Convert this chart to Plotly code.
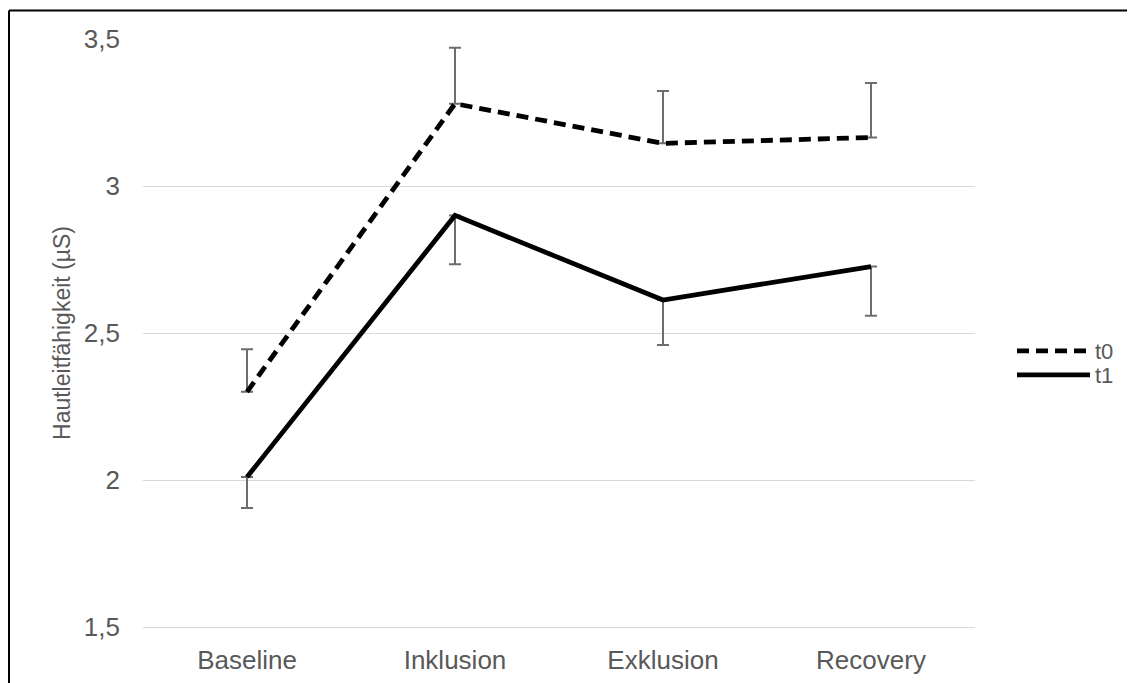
import plotly.graph_objects as go

categories = ["Baseline", "Inklusion", "Exklusion", "Recovery"]
t0_values = [2.30, 3.28, 3.145, 3.165]
t0_err_plus = [0.145, 0.19, 0.178, 0.185]
t1_values = [2.01, 2.90, 2.612, 2.726]
t1_err_minus = [0.105, 0.166, 0.153, 0.167]
y_ticks = [1.5, 2, 2.5, 3, 3.5]
y_ticklabels = ["1,5", "2", "2,5", "3", "3,5"]

OFF = 8  # page body margin
W, H = 1135 - OFF, 683 - OFF
L, T = 143 - OFF, 39 - OFF
R = W - (975 - OFF)
B = H - (627 - OFF)
pw, ph = W - L - R, H - T - B


def px_x(p):
    return (p - L) / pw


def px_y(p):
    return (H - B - p) / ph


FONT = "Liberation Sans, Arial, sans-serif"
GREY = "#595959"

fig = go.Figure()
fig.add_trace(go.Scatter(
    x=categories, y=t0_values, name="t0", mode="lines", legend="legend",
    line=dict(color="black", width=4.8, dash="12px,7px"),
    error_y=dict(type="data", symmetric=False, array=t0_err_plus,
                 arrayminus=[0] * len(t0_values), color="#6d6d6d",
                 thickness=2, width=6),
))
fig.add_trace(go.Scatter(
    x=categories, y=t1_values, name="t1", mode="lines", legend="legend2",
    line=dict(color="black", width=4.8),
    error_y=dict(type="data", symmetric=False, array=[0] * len(t1_values),
                 arrayminus=t1_err_minus, color="#6d6d6d",
                 thickness=2, width=6),
))

legend_common = dict(xanchor="left", yanchor="middle",
                     font=dict(family=FONT, size=22, color=GREY), itemwidth=73,
                     bgcolor="rgba(0,0,0,0)", borderwidth=0)

fig.update_layout(
    width=W, height=H,
    margin=dict(l=L, r=R, t=T, b=B, autoexpand=False),
    paper_bgcolor="white", plot_bgcolor="white",
    font=dict(family=FONT, color=GREY, size=23),
    xaxis=dict(type="category", range=[-0.5, 3.5], showgrid=False,
               showline=True, linecolor="#d9d9d9", linewidth=1, ticks="",
               automargin=False,
               tickfont=dict(size=26, color=GREY), ticklabelstandoff=10),
    yaxis=dict(range=[1.5, 3.5], tickvals=y_ticks, ticktext=y_ticklabels,
               showgrid=True, gridcolor="#d9d9d9", gridwidth=1,
               zeroline=False, showline=False, ticks="", automargin=False,
               tickfont=dict(size=26, color=GREY), ticklabelstandoff=22,
               title=dict(text="Hautleitfähigkeit (µS)",
                          font=dict(size=23, color=GREY), standoff=6)),
    legend=dict(x=px_x(1012 - OFF), y=px_y(351 - OFF), **legend_common),
    legend2=dict(x=px_x(1012 - OFF), y=px_y(375 - OFF), **legend_common),
    showlegend=True,
    shapes=[
        dict(type="line", xref="paper", yref="paper",
             x0=px_x(1), x1=px_x(1), y0=px_y(2.5), y1=px_y(H + 5),
             line=dict(color="black", width=2)),
        dict(type="line", xref="paper", yref="paper",
             x0=px_x(1), x1=px_x(W + 5), y0=px_y(2.5), y1=px_y(2.5),
             line=dict(color="black", width=2)),
    ],
)

fig.write_html("out.html")
